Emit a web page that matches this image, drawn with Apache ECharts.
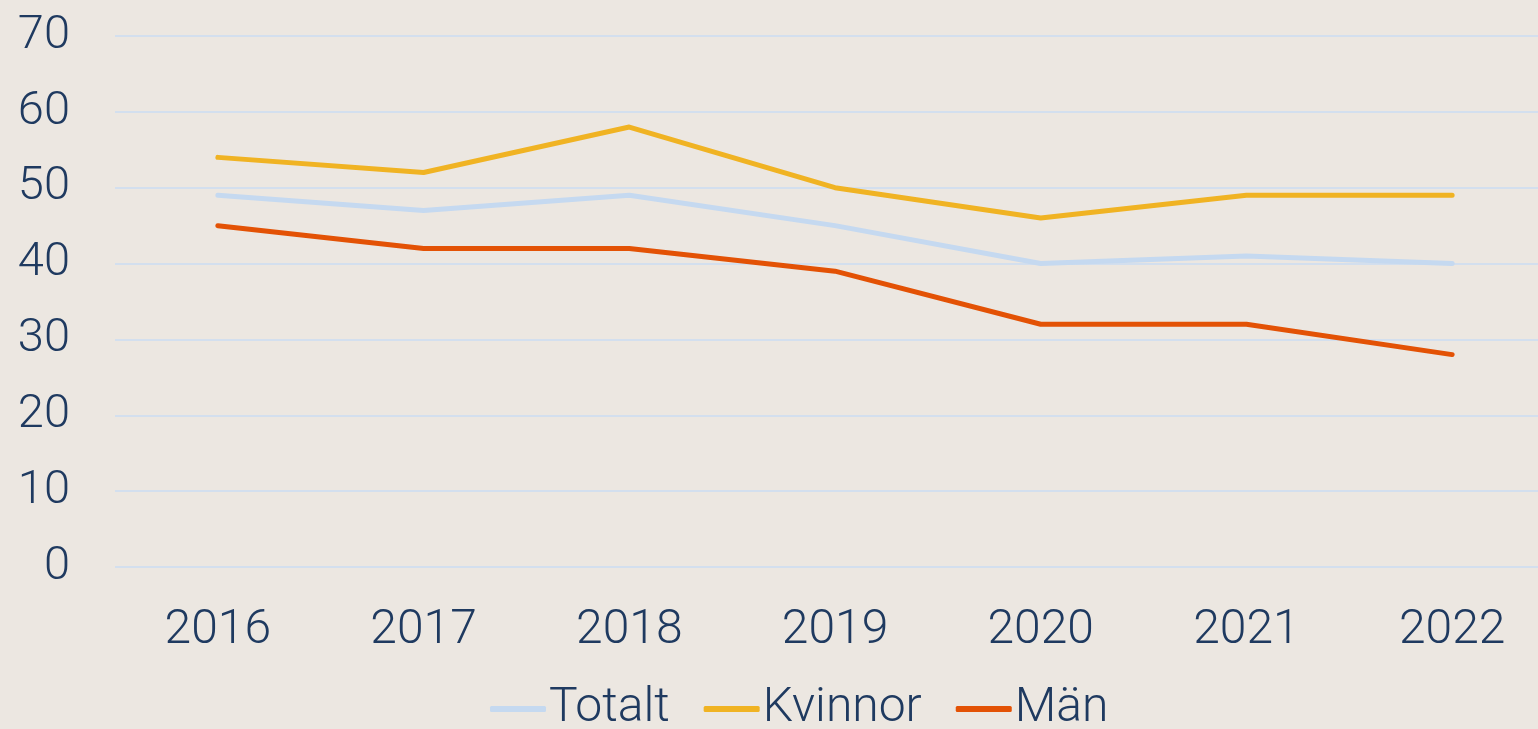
<!DOCTYPE html>
<html>
<head>
<meta charset="utf-8">
<script src="https://cdn.jsdelivr.net/npm/echarts@6/dist/echarts.min.js"></script>
<style>
  html, body { margin: 0; padding: 0; background: #ece7e1; }
  #chart { width: 1538px; height: 729px; }
</style>
</head>
<body>
<div id="chart"></div>
<script>
var years = ['2016', '2017', '2018', '2019', '2020', '2021', '2022'];
var totalt = [49, 47, 49, 45, 40, 41, 40];
var kvinnor = [54, 52, 58, 50, 46, 49, 49];
var man = [45, 42, 42, 39, 32, 32, 28];

var textColor = '#1f3a60';
var font = 'Roboto';

function lineSeries(name, data, color) {
  return {
    name: name,
    type: 'line',
    data: data,
    symbol: 'none',
    color: color,
    lineStyle: { width: 5, color: color, cap: 'round', join: 'round' },
    emphasis: { disabled: true }
  };
}

var chart = echarts.init(document.getElementById('chart'));
chart.setOption({
  backgroundColor: '#ece7e1',
  animation: false,
  grid: {
    left: 115, right: -17, top: 36, bottom: 162,
    containLabel: false, outerBoundsMode: 'none'
  },
  legend: {
    bottom: -9,
    left: 485,
    icon: 'roundRect',
    itemWidth: 56,
    itemHeight: 6,
    itemGap: 34,
    textStyle: { color: textColor, fontFamily: font, fontWeight: 300, fontSize: 48, padding: [0, 0, 0, -2] },
    data: ['Totalt', 'Kvinnor', 'Män']
  },
  xAxis: {
    type: 'category',
    data: years,
    boundaryGap: true,
    axisLine: { show: false },
    axisTick: { show: false },
    axisLabel: { color: textColor, fontFamily: font, fontWeight: 300, fontSize: 48, margin: 40 }
  },
  yAxis: {
    type: 'value',
    min: 0, max: 70, interval: 10,
    axisLine: { show: false },
    axisTick: { show: false },
    axisLabel: { color: textColor, fontFamily: font, fontWeight: 300, fontSize: 47, margin: 45, padding: [8, 0, 0, 0] },
    splitLine: { lineStyle: { color: '#d3dfee', width: 2 } }
  },
  series: [
    lineSeries('Totalt', totalt, '#c5d9f0'),
    lineSeries('Kvinnor', kvinnor, '#f0b323'),
    lineSeries('Män', man, '#e35205')
  ]
});
</script>
</body>
</html>
